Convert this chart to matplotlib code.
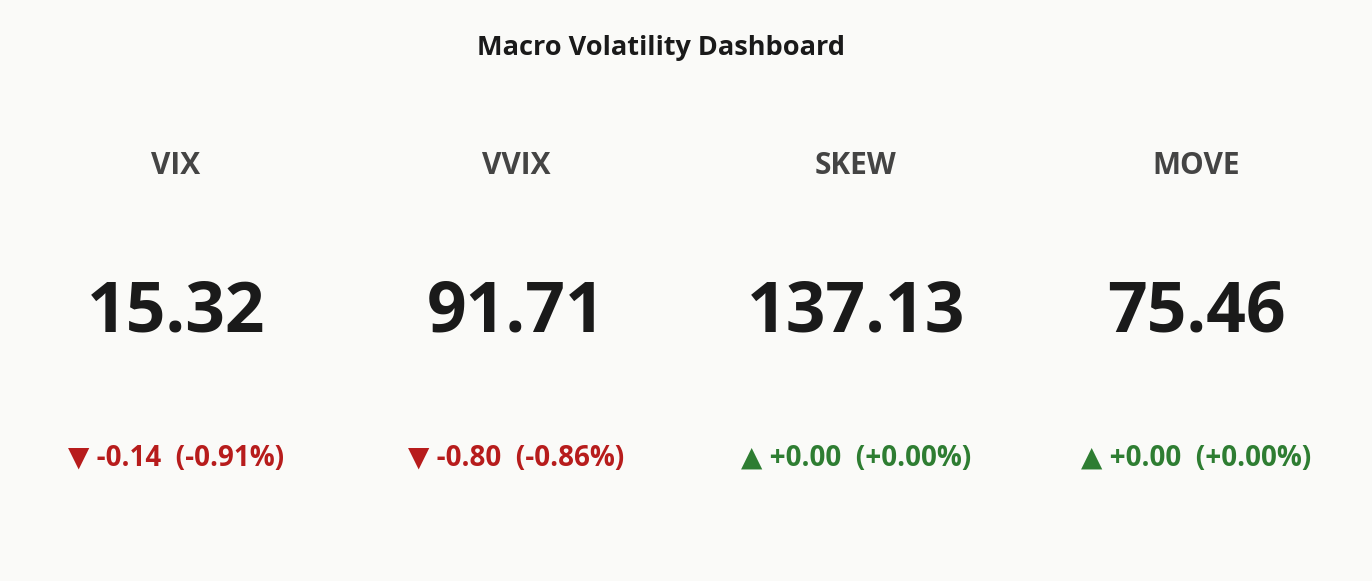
import matplotlib
matplotlib.use("Agg")
import matplotlib.pyplot as plt

names = ["VIX", "VVIX", "SKEW", "MOVE"]
values = [15.32, 91.71, 137.13, 75.46]
changes = [-0.14, -0.80, 0.00, 0.00]
pcts = [-0.91, -0.86, 0.00, 0.00]

fam = ["Open Sans", "DejaVu Sans"]
bg = "#FAFAF8"
fig = plt.figure(figsize=(13.72, 5.81), dpi=100, facecolor=bg)
fig.text(0.4815, 1 - 48/581, "Macro Volatility Dashboard", ha="center", va="center",
         fontsize=19.5, fontweight="bold", color="#1a1a1a", family=fam)
xs = [176, 516, 856, 1196]
for x, n, v, c, p in zip(xs, names, values, changes, pcts):
    fx = x / 1372
    fig.text(fx, 1 - 166/581, n, ha="center", va="center", fontsize=21.5,
             fontweight="bold", color="#444444", family=fam)
    fig.text(fx, 1 - 313/581, f"{v:.2f}", ha="center", va="center", fontsize=50,
             fontweight="bold", color="#1a1a1a", family=fam)
    up = c >= 0
    col = "#2E7D32" if up else "#B71C1C"
    arrow = "▲" if up else "▼"
    fig.text(fx, 1 - 458/581, f"{arrow} {c:+.2f}  ({p:+.2f}%)", ha="center", va="center",
             fontsize=20, fontweight="bold", color=col, family=fam)
fig.savefig("out.png", dpi=100, facecolor=bg)
